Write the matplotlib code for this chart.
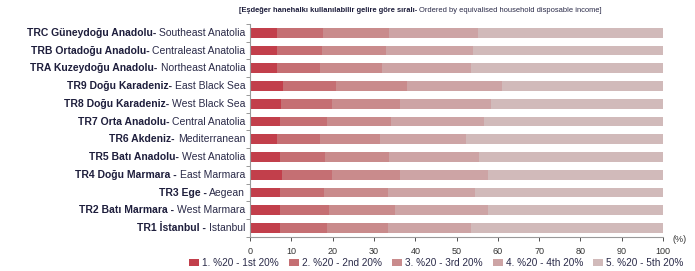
import matplotlib.pyplot as plt
import numpy as np

plt.rcParams['font.family'] = ['Liberation Sans', 'DejaVu Sans']

# Regions, top to bottom
regions_tr = ['TRC Güneydoğu Anadolu-', 'TRB Ortadoğu Anadolu-', 'TRA Kuzeydoğu Anadolu-',
              'TR9 Doğu Karadeniz-', 'TR8 Doğu Karadeniz-', 'TR7 Orta Anadolu-',
              'TR6 Akdeniz-', 'TR5 Batı Anadolu-', 'TR4 Doğu Marmara -',
              'TR3 Ege -', 'TR2 Batı Marmara -', 'TR1 İstanbul -']
regions_en = ['Southeast Anatolia', 'Centraleast Anatolia', 'Northeast Anatolia',
              'East Black Sea', 'West Black Sea', 'Central Anatolia',
              'Mediterranean', 'West Anatolia', 'East Marmara',
              'Aegean', 'West Marmara', 'Istanbul']

# Share of income per quintile (%)
q1 = [6.6, 6.6, 6.6, 8.0, 7.5, 7.1, 6.6, 7.1, 7.6, 7.1, 7.1, 7.1]
q2 = [11.1, 10.7, 10.2, 12.8, 12.4, 11.5, 10.2, 11.1, 12.3, 10.7, 11.9, 11.5]
q3 = [16.0, 15.5, 15.1, 17.2, 16.4, 15.5, 14.7, 15.5, 16.5, 15.5, 16.0, 14.7]
q4 = [21.6, 21.1, 21.6, 23.1, 22.1, 22.6, 20.8, 21.7, 21.1, 21.2, 22.5, 20.3]
q5 = [44.7, 46.1, 46.5, 38.9, 41.6, 43.3, 47.7, 44.6, 42.5, 45.5, 42.5, 46.4]

quintiles = [q1, q2, q3, q4, q5]
legend_tr = ['1. %20', '2. %20', '3. %20', '4. %20', '5. %20']
legend_en = ['1st 20%', '2nd 20%', '3rd 20%', '4th 20%', '5th 20%']
colors = ['#c23f4b', '#c56f73', '#c98b8c', '#cda4a5', '#d1baba']

fig = plt.figure(figsize=(6.95, 2.71), dpi=100)
ax = fig.add_axes([0.36, 0.1255, 0.594, 0.786])

ypos = np.arange(len(regions_tr))
left = np.zeros(len(regions_tr))
for vals, col, ltr, len_ in zip(quintiles, colors, legend_tr, legend_en):
    ax.barh(ypos, vals, left=left, height=0.55, color=col, label=f'{ltr} - {len_}')
    left += np.array(vals)

ax.set_xlim(0, 100)
ax.set_ylim(len(regions_tr) - 0.5, -0.5)
ax.set_xticks(range(0, 101, 10))
ax.tick_params(axis='x', labelsize=6.5, colors='#333333', length=3, width=0.6, pad=4)
ax.set_yticks(np.arange(-0.5, len(regions_tr), 1))
ax.set_yticklabels([])
ax.tick_params(axis='y', length=3, width=0.6, colors='#888888')
for s in ['top', 'right']:
    ax.spines[s].set_visible(False)
for s in ['left', 'bottom']:
    ax.spines[s].set_color('#999999')
    ax.spines[s].set_linewidth(0.8)

# two-part labels: Turkish in bold, English regular
for y, tr, en in zip(ypos, regions_tr, regions_en):
    t = ax.annotate(en, xy=(-0.012, y), xycoords=('axes fraction', 'data'),
                    ha='right', va='center', fontsize=7.5, color='#2a2a48')
    ax.annotate(tr + ' ', xy=(0, 0.5), xycoords=t, ha='right', va='center',
                fontsize=7.5, fontweight='bold', color='#1e1e3c')

t = fig.text(0.866, 0.962, 'Ordered by equivalised household disposable income]',
             ha='right', va='center', fontsize=5.4, color='#2a2a48')
ax.annotate('[Eşdeğer hanehalkı kullanılabilir gelire göre sıralı- ', xy=(0, 0.5),
            xycoords=t, ha='right', va='center', fontsize=5.4, fontweight='bold',
            color='#1e1e3c', annotation_clip=False)

fig.text(0.978, 0.118, '(%)', ha='center', va='center', fontsize=6.5, color='#333333')

fig.legend(loc='center', bbox_to_anchor=(0.628, 0.03), ncol=5, frameon=False,
           fontsize=7.2, handlelength=1.0, handleheight=0.7, handletextpad=0.3,
           columnspacing=1.0, labelcolor='#2a2a48')

fig.savefig('out.png', dpi=100)
